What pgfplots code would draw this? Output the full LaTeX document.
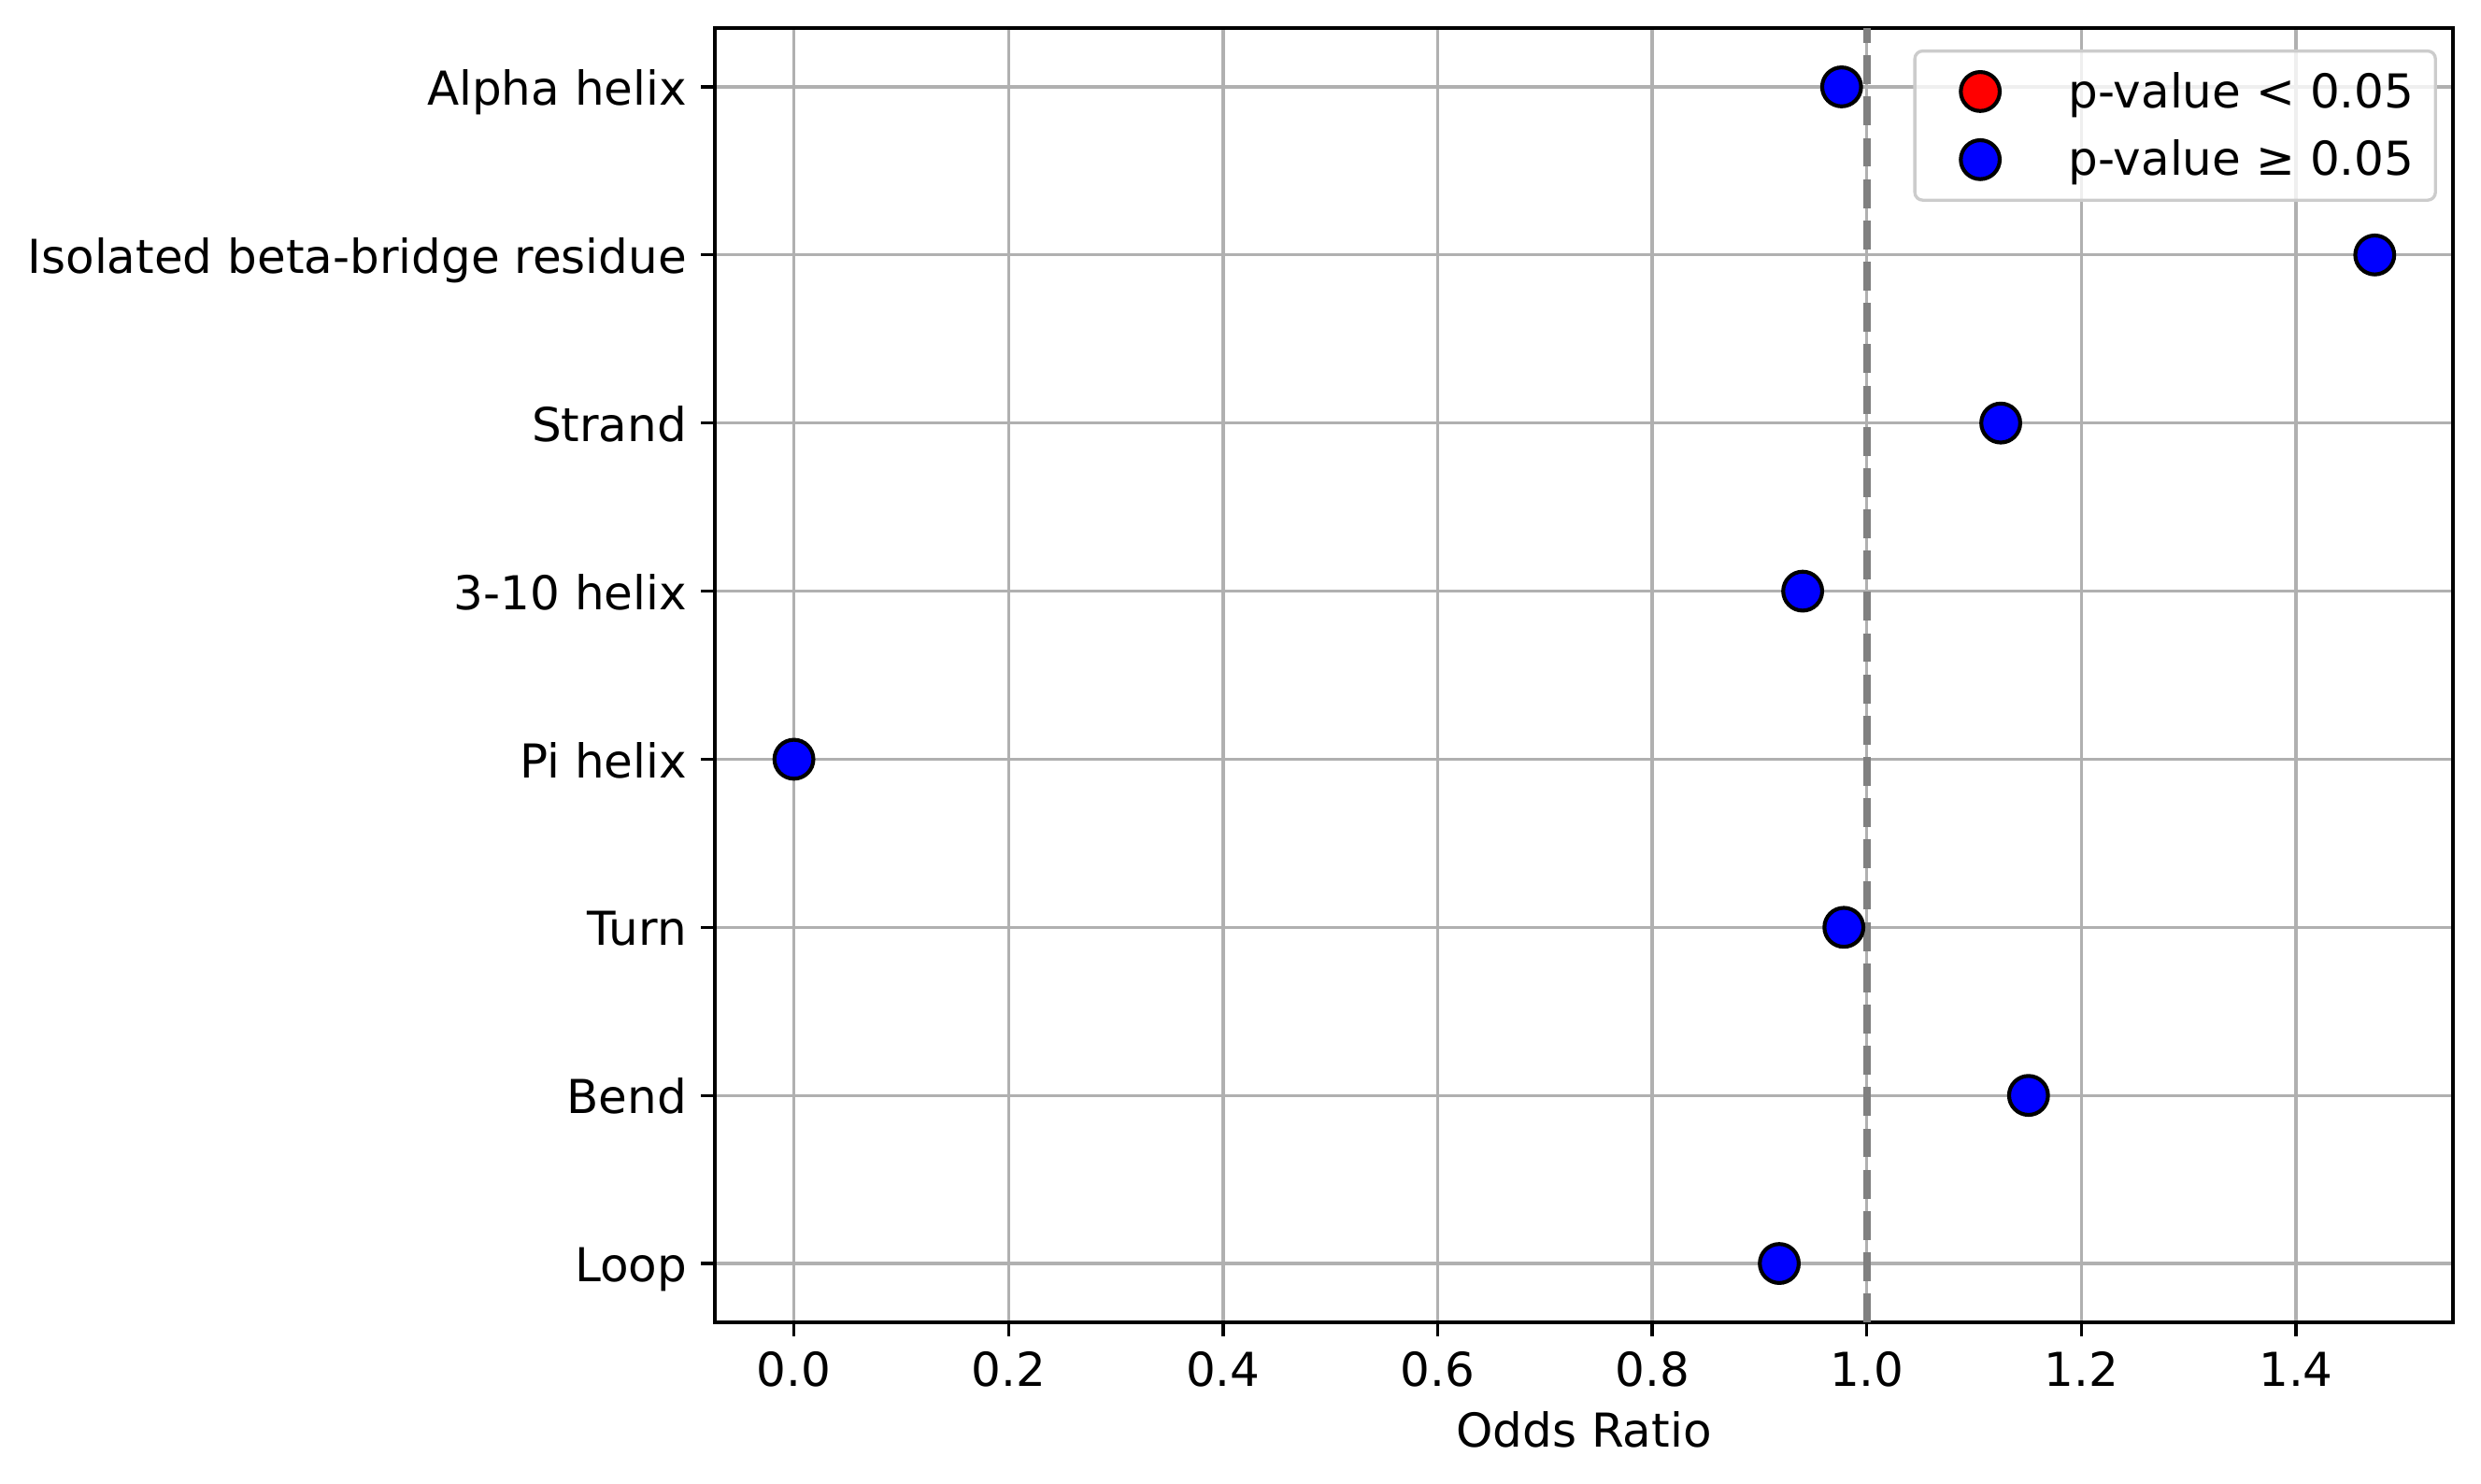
\documentclass[border=0pt]{standalone}
\usepackage{pgfplots}
\pgfplotsset{compat=1.18}
\usepackage{fontspec}
\setmainfont{DejaVu Sans}
\definecolor{gridgray}{HTML}{B0B0B0}
\definecolor{lineg}{HTML}{808080}
\definecolor{legframe}{HTML}{CCCCCC}
\definecolor{mblue}{HTML}{0000FF}
\definecolor{mred}{HTML}{FF0000}
\begin{document}
\begin{tikzpicture}
\useasboundingbox (-183.6pt,-41.28pt) rectangle (453.6pt,339.6pt);
\begin{axis}[
  at={(0pt,0pt)}, anchor=south west,
  scale only axis, width=446.4pt, height=332.4pt,
  xmin=-0.0737, xmax=1.5463, ymin=-0.35, ymax=7.35,
  xtick={0,0.2,0.4,0.6,0.8,1.0,1.2,1.4},
  xticklabels={0.0,0.2,0.4,0.6,0.8,1.0,1.2,1.4},
  ytick={0,1,2,3,4,5,6,7},
  yticklabels={Loop,Bend,Turn,Pi helix,3-10 helix,Strand,Isolated beta-bridge residue,Alpha helix},
  xtick pos=bottom, ytick pos=left,
  tick align=outside, major tick length=3.5pt,
  every tick/.style={black, line width=0.8pt},
  axis line style={line width=0.8pt, black},
  grid=major, major grid style={gridgray, line width=0.8pt},
  tick label style={font=\fontsize{12}{14.4}\selectfont, inner sep=0pt},
  yticklabel style={anchor=base east, xshift=-3.5pt, yshift=-4.7pt},
  xticklabel style={anchor=base, yshift=-12.9pt},
  label style={font=\fontsize{12}{14.4}\selectfont},
  xlabel={Odds Ratio},
  xlabel style={at={(axis description cs:0.5,0)}, anchor=north, yshift=-22.8pt, inner sep=0pt},
  legend style={
    at={(axis description cs:1,1)}, anchor=north east, xshift=-4.1pt, yshift=-5.5pt,
    draw=legframe, line width=0.8pt, rounded corners=2pt,
    fill=white, fill opacity=0.8, text opacity=1, draw opacity=1,
    inner xsep=5.5pt, inner ysep=4pt,
    row sep=4.7pt,
    font=\fontsize{12}{14.4}\selectfont,
    nodes={inner sep=0pt, text height=10.5pt, text depth=2.3pt},
    cells={anchor=west},
  },
  legend image code/.code={
    \path[draw=none, fill=none] (0pt,-5pt) rectangle (33.9pt,5pt);
    \draw[#1, mark size=5pt, fill opacity=1, draw opacity=1, opacity=1] plot coordinates {(11.3pt,0pt)};
  },
]
\addlegendimage{only marks, mark=*, mark options={fill=mred, draw=black, line width=1pt}}
\addlegendentry{p-value < 0.05}
\addplot[only marks, mark=*, mark size=5pt, mark options={fill=mblue, draw=black, line width=1pt}]
  coordinates {
  (0.9765,7) (1.4734,6) (1.1248,5) (0.9402,4) (0.0,3) (0.9786,2) (1.1507,1) (0.9184,0)
  };
\addlegendentry{p-value ≥ 0.05}
\addplot[lineg, line width=2pt, dash pattern=on 7.4pt off 3.2pt, forget plot]
  coordinates {(1,-0.35) (1,7.35)};
\end{axis}
\end{tikzpicture}
\end{document}
